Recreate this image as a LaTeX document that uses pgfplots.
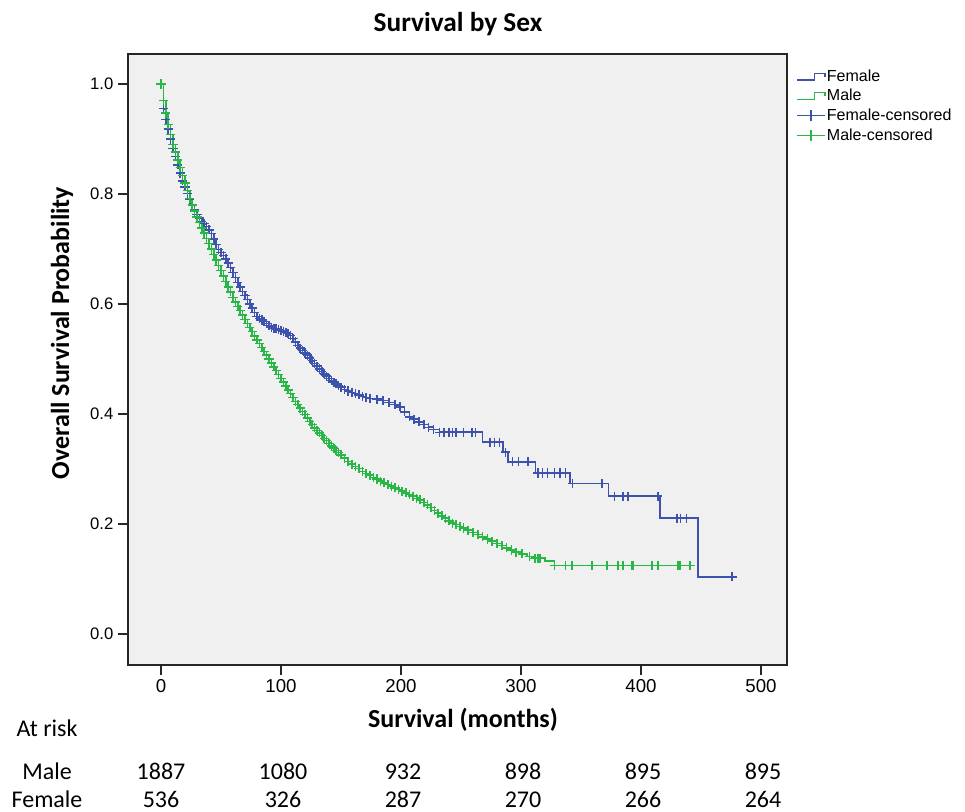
\documentclass[border=0pt]{standalone}
\usepackage{fontspec}
\setmainfont{Liberation Sans}
\newfontfamily\calfont{Carlito}
\usepackage{pgfplots}
\usepackage{pgfplotstable}
\pgfplotsset{compat=1.18}

\definecolor{femc}{RGB}{60,82,172}
\definecolor{malec}{RGB}{40,182,70}
\definecolor{bgc}{RGB}{240,240,240}

\pgfplotsset{
    steplegend/.style={legend image code/.code={
        \draw[##1] (0pt,-2.5pt) -- (13pt,-2.5pt) -- (13pt,2.5pt) -- (21pt,2.5pt) -- (21pt,0pt);}},
    censlegend/.style={legend image code/.code={
        \draw[##1] (0pt,0pt) -- (21pt,0pt); \draw[##1] (10.5pt,-4pt) -- (10.5pt,4pt);}},
}

% Kaplan-Meier steps
\pgfplotstableread{
x y
0 1.000
2 0.955
4 0.935
6 0.918
8 0.900
10 0.883
12 0.868
14 0.853
16 0.838
18 0.824
20 0.813
22 0.801
24 0.790
26 0.780
28 0.771
30 0.763
32 0.756
34 0.750
36 0.746
38 0.741
40 0.735
42 0.728
44 0.718
46 0.708
48 0.699
50 0.694
52 0.688
54 0.682
56 0.675
58 0.666
60 0.657
62 0.648
64 0.639
66 0.631
68 0.623
70 0.616
72 0.608
74 0.600
76 0.593
78 0.585
80 0.577
82 0.574
84 0.571
86 0.568
88 0.565
90 0.561
92 0.558
94 0.556
96 0.555
98 0.554
100 0.552
102 0.550
104 0.548
106 0.546
108 0.543
110 0.537
112 0.531
114 0.525
116 0.520
118 0.516
120 0.511
122 0.507
124 0.502
126 0.497
128 0.492
130 0.487
132 0.482
134 0.477
136 0.473
138 0.469
140 0.465
142 0.461
144 0.458
146 0.455
148 0.452
150 0.449
153 0.445
156 0.442
159 0.439
162 0.437
165 0.435
168 0.432
171 0.430
174 0.428
180 0.427
185 0.425
190 0.421
195 0.417
199 0.413
203 0.404
207 0.395
211 0.391
215 0.386
219 0.381
223 0.376
227 0.372
232 0.367
268 0.349
285 0.331
289 0.313
312 0.293
341 0.274
373 0.251
416 0.211
447.5 0.104
476 0.104
}\femcurve

\pgfplotstableread{
x y
236 0.367
240 0.367
243 0.367
246 0.367
252 0.367
259 0.367
262 0.367
274 0.349
278 0.349
282 0.349
287 0.331
293 0.313
298 0.313
306 0.313
314 0.293
318 0.293
322 0.293
328 0.293
332.5 0.293
337 0.293
343 0.274
367.5 0.274
378 0.251
385 0.251
389 0.251
414 0.251
430 0.211
433 0.211
438 0.211
476 0.104
}\femcens

\pgfplotstableread{
x y
0 1.000
2 0.970
4 0.947
6 0.926
8 0.908
10 0.890
12 0.876
14 0.862
16 0.848
18 0.834
20 0.820
22 0.806
24 0.792
26 0.780
28 0.769
30 0.758
32 0.748
34 0.738
36 0.729
38 0.719
40 0.710
42 0.700
44 0.690
46 0.680
48 0.670
50 0.661
52 0.651
54 0.641
56 0.631
58 0.622
60 0.612
62 0.604
64 0.596
66 0.588
68 0.580
70 0.572
72 0.565
74 0.557
76 0.550
78 0.542
80 0.535
82 0.528
84 0.521
86 0.514
88 0.507
90 0.500
92 0.493
94 0.486
96 0.479
98 0.472
100 0.465
102 0.458
104 0.451
106 0.444
108 0.437
110 0.430
112 0.423
114 0.417
116 0.411
118 0.405
120 0.399
122 0.393
124 0.387
126 0.381
128 0.375
130 0.370
132 0.366
134 0.361
136 0.356
138 0.352
140 0.347
142 0.342
144 0.338
146 0.334
148 0.330
150 0.326
153 0.320
156 0.314
159 0.309
162 0.305
165 0.301
168 0.296
171 0.292
174 0.289
177 0.285
180 0.282
183 0.278
186 0.275
189 0.272
192 0.269
195 0.266
198 0.263
201 0.260
204 0.257
207 0.254
210 0.251
213 0.247
216 0.244
219 0.239
222 0.235
225 0.230
228 0.225
231 0.220
234 0.215
237 0.211
240 0.206
243 0.202
246 0.199
249 0.196
252 0.193
256 0.189
260 0.185
264 0.181
268 0.177
272 0.173
276 0.169
280 0.165
284 0.161
288 0.157
292 0.153
296 0.149
300 0.146
305 0.141
309 0.138
320 0.133
328 0.125
442.5 0.125
}\malecurve

\pgfplotstableread{
x y
301 0.146
307 0.141
311.5 0.138
314 0.138
316 0.138
328 0.125
337 0.125
342.5 0.125
359 0.125
371.5 0.125
381 0.125
385 0.125
392.5 0.125
393.5 0.125
409 0.125
414 0.125
431 0.125
432.5 0.125
441 0.125
}\malecens

\begin{document}
\begin{tikzpicture}
\path[use as bounding box] (0pt,0pt) rectangle (723.75pt,609pt);
\begin{axis}[
    at={(96pt,110.25pt)}, anchor=south west,
    scale only axis, width=494.25pt, height=458.25pt,
    xmin=-27.5, xmax=521.7, ymin=-0.056, ymax=1.0545,
    axis background/.style={fill=bgc},
    axis line style={line width=1.1pt, black!85},
    xtick={0,100,200,300,400,500},
    ytick={0,0.2,0.4,0.6,0.8,1.0},
    xtick pos=bottom, ytick pos=left,
    tick align=outside, major tick length=7.5pt,
    tick style={line width=1.1pt, black!85},
    /pgf/number format/assume math mode=true,
    xticklabel style={font=\fontsize{14}{16}\selectfont},
    yticklabel style={font=\fontsize{12.5}{14}\selectfont,
        /pgf/number format/fixed, /pgf/number format/fixed zerofill,
        /pgf/number format/precision=1},
    legend style={at={(1.0076,0.979)}, anchor=north west, draw=none, fill=none,
        font=\fontsize{12}{13}\selectfont, row sep=4.5pt,
        nodes={inner xsep=1pt, inner ysep=0pt}},
    legend cell align=left,
    curve/.style={const plot, line width=1.2pt, no marks},
    cens/.style={only marks, mark=+, mark size=3.4pt, mark options={line width=1.1pt}},
]
\addlegendimage{femc, line width=1pt, steplegend}
\addlegendentry{Female}
\addlegendimage{malec, line width=1pt, steplegend}
\addlegendentry{Male}
\addlegendimage{femc, line width=1pt, censlegend}
\addlegendentry{Female-censored}
\addlegendimage{malec, line width=1pt, censlegend}
\addlegendentry{Male-censored}

\addplot[curve, femc, forget plot] table {\femcurve};
\addplot[cens, femc, forget plot, restrict x to domain=0:232] table {\femcurve};
\addplot[cens, femc, forget plot] table {\femcens};
\addplot[curve, malec, forget plot] table {\malecurve};
\addplot[cens, malec, forget plot, restrict x to domain=0:296] table {\malecurve};
\addplot[cens, malec, forget plot] table {\malecens};
\end{axis}

\begin{scope}[yshift=609pt, x=0.75pt, y=-0.75pt]
\node[font=\calfont\bfseries\fontsize{20.5}{24}\selectfont] at (458,24) {Survival by Sex};
\node[font=\calfont\bfseries\fontsize{19.5}{22}\selectfont, rotate=90] at (62,333) {Overall Survival Probability};
\node[font=\calfont\bfseries\fontsize{19.5}{22}\selectfont] at (463,720) {Survival (months)};
\begin{scope}[every node/.style={font=\calfont\fontsize{18}{20}\selectfont, anchor=base, inner sep=0pt}]
\node at (47,737) {At risk};
\node at (47,780) {Male};
\node at (47,808) {Female};
\node at (161,780) {1887}; \node at (283,780) {1080}; \node at (403,780) {932};
\node at (523,780) {898}; \node at (643,780) {895}; \node at (763,780) {895};
\node at (161,808) {536}; \node at (283,808) {326}; \node at (403,808) {287};
\node at (523,808) {270}; \node at (643,808) {266}; \node at (763,808) {264};
\end{scope}
\end{scope}
\end{tikzpicture}
\end{document}
